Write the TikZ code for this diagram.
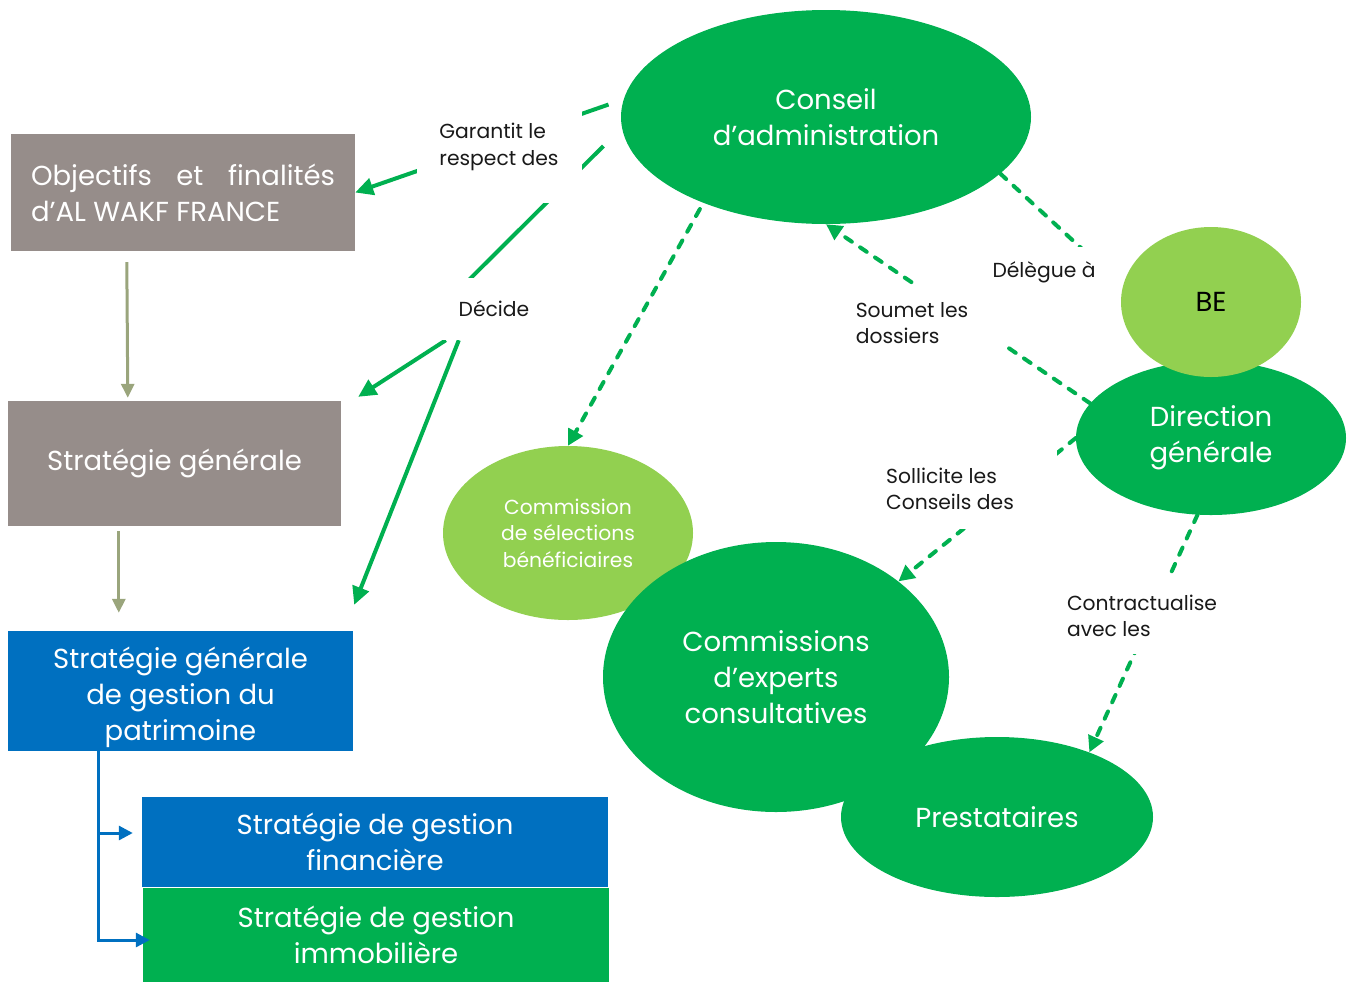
\documentclass[tikz,border=0pt]{standalone}
\usepackage{fontspec}
\setmainfont{Poppins}
\usepackage{tikz}
\usetikzlibrary{arrows.meta,%
                shapes.geometric,%
                calc}

\definecolor{vertfonce}{HTML}{00B050}
\definecolor{vertclair}{HTML}{92D050}
\definecolor{bleu}{HTML}{0070C0}
\definecolor{gris}{HTML}{968D8A}
\definecolor{olive}{HTML}{9AA57C}

\newcommand{\GrandTexte}{\fontsize{27.5}{36}\selectfont}
\newcommand{\PetitTexte}{\fontsize{20.3}{26.5}\selectfont}

\pgfdeclarelayer{liens}
\pgfsetlayers{liens,main}

\begin{document}
\begin{tikzpicture}[x=1pt,y=-1pt,
		BoxStyle/.style = {rectangle,inner sep=0pt,text=white,font=\GrandTexte,align=center},
		BubbleStyle/.style = {ellipse,inner sep=0pt,fill=vertfonce,text=white,font=\GrandTexte,align=center},
		LabelStyle/.style = {rectangle,fill=white,inner sep=0pt,text=black!90,font=\PetitTexte,align=left},
		EdgeStyle/.style = {draw=vertfonce,line width=4pt,-{Triangle[length=18pt,width=17pt]}},
		DashEdgeStyle/.style = {draw=vertfonce,line width=4pt,dash pattern=on 8pt off 10pt,line cap=round,-{Triangle[length=16pt,width=16pt]}},
		OliveEdgeStyle/.style = {draw=olive,line width=3pt,-{Triangle[length=14pt,width=13pt]}},
		BlueEdgeStyle/.style = {draw=bleu,line width=3pt,-{Triangle[length=14pt,width=14pt]}}]
		\useasboundingbox (0,0) rectangle (1354,983);
		% bulles
		\node[BubbleStyle,fill=vertclair,minimum width=250pt,minimum height=174pt,font=\PetitTexte] (commsel) at (568,533) {Commission\\de sélections\\bénéficiaires};
		\node[BubbleStyle,minimum width=312pt,minimum height=160pt] (prest) at (997,817) {Prestataires};
		\node[BubbleStyle,minimum width=346pt,minimum height=270pt] (commexp) at (776,677) {Commissions\\d’experts\\consultatives};
		\node[BubbleStyle,minimum width=270pt,minimum height=154pt] (direction) at (1211,438) {Direction\\générale};
		\node[BubbleStyle,fill=vertclair,text=black,minimum width=180pt,minimum height=150pt] (be) at (1211,302) {BE};
		\node[BubbleStyle,minimum width=410pt,minimum height=214pt] (conseil) at (826,117) {Conseil\\d’administration};
		% colonne de gauche
		\node[BoxStyle,fill=gris,minimum width=344pt,minimum height=117pt,text width=304pt,align=justify] (objectifs) at (183,192.5) {\hyphenpenalty=10000 Objectifs et finalités\linebreak d’AL WAKF FRANCE};
		\node[BoxStyle,fill=gris,minimum width=333pt,minimum height=125pt] (stratg) at (174.5,463.5) {Stratégie générale};
		\begin{scope}
			\clip (8,631) rectangle (353,750);
			\node[BoxStyle,fill=bleu,minimum width=345pt,minimum height=132pt] (patri) at (180.5,697) {Stratégie générale\\de gestion du\\patrimoine};
		\end{scope}
		\node[BoxStyle,fill=bleu,minimum width=466pt,minimum height=90pt] (fin) at (375,842) {Stratégie de gestion\\financière};
		\node[BoxStyle,fill=vertfonce,minimum width=466pt,minimum height=94pt] (immo) at (376,935) {Stratégie de gestion\\immobilière};
		% etiquettes
		\node[LabelStyle,minimum width=165pt,minimum height=112pt] (garantit) at (499,147) {Garantit le\\respect des};
		\node[LabelStyle,minimum width=110pt,minimum height=62pt] (decide) at (494,309) {Décide};
		\node[LabelStyle,minimum width=152pt,minimum height=50pt] (delegue) at (1044,272) {Délègue à};
		\node[LabelStyle,minimum width=182pt,minimum height=76pt] (soumet) at (912,323) {Soumet les\\dossiers};
		\node[LabelStyle,minimum width=214pt,minimum height=80pt] (sollicite) at (950,489) {Sollicite les\\Conseils des};
		\node[LabelStyle,minimum width=185pt,minimum height=76pt] (contrat) at (1142,616) {Contractualise\\avec les};
		% liens
		\begin{pgfonlayer}{liens}
			\draw[EdgeStyle,shorten <=16pt] (conseil.175) -- (objectifs.east);
			\draw[EdgeStyle,-,shorten <=26pt] (conseil.183) -- ($(decide.north)+(-33,10)$);
			\draw[EdgeStyle] ($(decide.south west)+(7,0)$) -- ($(stratg.north east)+(17,-4)$);
			\draw[EdgeStyle] ($(decide.south west)+(20,0)$) -- ($(patri.north east)+(1,-26)$);
			\draw[DashEdgeStyle,shorten <=7pt] (conseil.215) -- (commsel.north);
			\draw[DashEdgeStyle,-,shorten >=8pt] (conseil.-18) -- (be.170);
			\draw[DashEdgeStyle] (direction.164) -- (conseil.south);
			\draw[DashEdgeStyle] (direction.west) -- (commexp.38);
			\draw[DashEdgeStyle] (direction.260) -- (prest.35);
			\draw[OliveEdgeStyle] ($(objectifs.south west)+(116,11)$) -- ($(stratg.north west)+(120,-3)$);
			\draw[OliveEdgeStyle] ($(stratg.south west)+(111,5)$) -- ($(patri.north west)+(111,-18)$);
		\end{pgfonlayer}
		\draw[BlueEdgeStyle] ($(patri.north west)+(91,119)$) |- ($(fin.west)+(-9,-9)$);
		\draw[BlueEdgeStyle] ($(patri.north west)+(91,119)$) |- ($(immo.west)+(7,5)$);
	\end{tikzpicture}
\end{document}
